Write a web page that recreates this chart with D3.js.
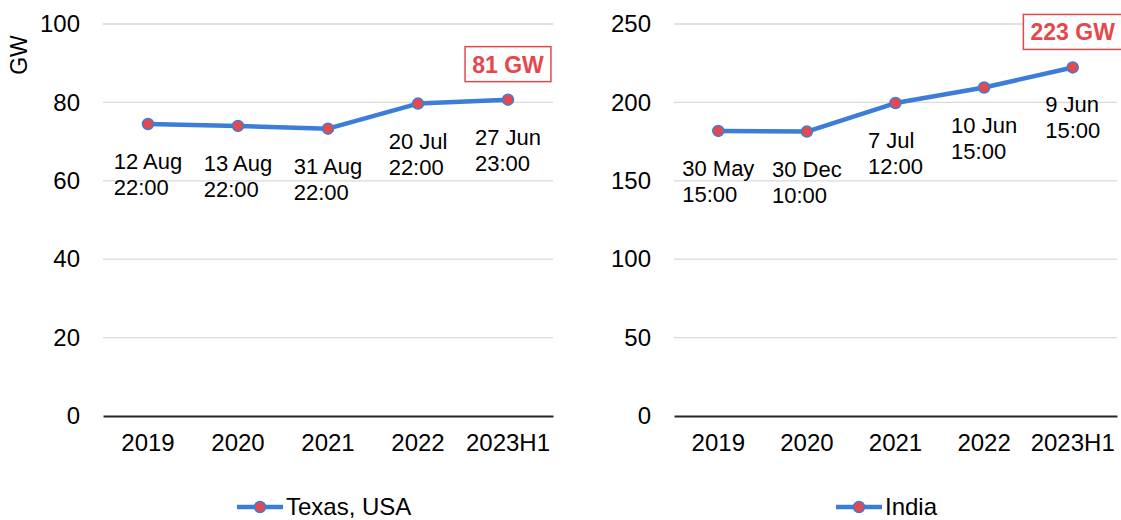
<!DOCTYPE html>
<html>
<head>
<meta charset="utf-8">
<script src="https://cdn.jsdelivr.net/npm/d3@7"></script>
<style>
  body { margin: 0; background: #fff; }
  svg { font-family: "Liberation Sans", Arial, sans-serif; display: block; }
</style>
</head>
<body>
<div class="chart"></div>
<script>
// data
var years = ["2019", "2020", "2021", "2022", "2023H1"];

var texasPeak = [74.5, 74.0, 73.3, 79.7, 80.7];
var texasTime = [["12 Aug", "22:00"], ["13 Aug", "22:00"], ["31 Aug", "22:00"], ["20 Jul", "22:00"], ["27 Jun", "23:00"]];
var texasTicks = [0, 20, 40, 60, 80, 100];

var indiaPeak = [181.8, 181.4, 199.6, 209.5, 222.3];
var indiaTime = [["30 May", "15:00"], ["30 Dec", "10:00"], ["7 Jul", "12:00"], ["10 Jun", "15:00"], ["9 Jun", "15:00"]];
var indiaTicks = [0, 50, 100, 150, 200, 250];

var svgWidth = 1121;
var svgHeight = 520;

var svg = d3.select(".chart")
  .append("svg")
  .attr("width", svgWidth)
  .attr("height", svgHeight);

var lineColor = "#3b7dd8";
var dotColor = "#e8474c";
var boxColor = "#e5474b";

function drawPanel(opt) {
  var x = d3.scaleBand()
    .domain(years)
    .range([opt.left, opt.right]);

  var y = d3.scaleLinear()
    .domain([0, d3.max(opt.ticks)])
    .range([416, 24]);

  var g = svg.append("g");

  // gridlines
  g.append("g")
    .selectAll("line")
    .data(opt.ticks.filter(d => d > 0))
    .join("line")
    .attr("x1", opt.left)
    .attr("x2", opt.right)
    .attr("y1", d => y(d))
    .attr("y2", d => y(d))
    .attr("stroke", "#d9d9d9")
    .attr("stroke-width", 1.3);

  // y axis labels
  var yAxis = d3.axisLeft(y).tickValues(opt.ticks).tickSize(0).tickPadding(23);
  g.append("g")
    .attr("transform", "translate(" + opt.left + ",0)")
    .call(yAxis)
    .call(s => s.select(".domain").remove())
    .selectAll("text")
    .style("font-size", "24px")
    .style("font-family", "Liberation Sans, Arial, sans-serif")
    .attr("fill", "#000");

  // x axis
  var xAxis = d3.axisBottom(x).tickSize(0).tickPadding(18);
  g.append("g")
    .attr("transform", "translate(0," + y(0) + ")")
    .call(xAxis)
    .call(s => s.select(".domain").attr("stroke", "#262626").attr("stroke-width", 2.2))
    .selectAll("text")
    .style("font-size", "24px")
    .style("font-family", "Liberation Sans, Arial, sans-serif")
    .attr("fill", "#000");

  var pts = years.map((d, i) => ({ year: d, v: opt.values[i], lab: opt.labels[i] }));

  var line = d3.line()
    .x(d => x(d.year) + x.bandwidth() / 2)
    .y(d => y(d.v));

  g.append("path")
    .datum(pts)
    .attr("d", line)
    .attr("fill", "none")
    .attr("stroke", lineColor)
    .attr("stroke-width", 4.5)
    .attr("stroke-linejoin", "round");

  g.selectAll("circle.pt")
    .data(pts)
    .join("circle")
    .attr("class", "pt")
    .attr("cx", d => x(d.year) + x.bandwidth() / 2)
    .attr("cy", d => y(d.v))
    .attr("r", 5.5)
    .attr("fill", dotColor)
    .attr("stroke", lineColor)
    .attr("stroke-width", 1.5);

  // date / hour labels under each point
  g.selectAll("text.lab")
    .data(pts)
    .join("text")
    .attr("class", "lab")
    .style("font-size", "22px")
    .attr("fill", "#000")
    .each(function (d) {
      var t = d3.select(this);
      var cx = x(d.year) + x.bandwidth() / 2;
      var cy = y(d.v) + 45;
      d.lab.forEach((s, k) => {
        t.append("tspan").attr("x", cx).attr("y", cy + k * 26).text(s);
      });
      var w = this.getBBox().width;
      t.selectAll("tspan").attr("x", cx - w / 2);
    });

  // peak annotation box
  var last = pts[pts.length - 1];
  var bx = x(last.year) + x.bandwidth() / 2;
  var by = y(last.v) - 18;
  var ann = g.append("g");
  var annText = ann.append("text")
    .attr("x", bx)
    .attr("y", by - 9)
    .attr("text-anchor", "middle")
    .style("font-size", "23px")
    .style("font-weight", "bold")
    .attr("fill", boxColor)
    .text(opt.peak);
  var w = annText.node().getBBox().width;
  ann.insert("rect", "text")
    .attr("x", bx - w / 2 - 7)
    .attr("y", by - 35)
    .attr("width", w + 14)
    .attr("height", 35)
    .attr("fill", "#fff")
    .attr("stroke", boxColor)
    .attr("stroke-width", 1.5);

  // legend
  var lg = g.append("g").attr("transform", "translate(" + opt.legendX + ",507)");
  lg.append("line")
    .attr("x1", 0).attr("x2", 46)
    .attr("stroke", lineColor)
    .attr("stroke-width", 4.5);
  lg.append("circle")
    .attr("cx", 23)
    .attr("r", 5.5)
    .attr("fill", dotColor)
    .attr("stroke", lineColor)
    .attr("stroke-width", 1.5);
  lg.append("text")
    .attr("x", 49)
    .attr("dy", "0.35em")
    .style("font-size", "24px")
    .attr("fill", "#000")
    .text(opt.name);
}

drawPanel({ left: 103, right: 553, ticks: texasTicks, values: texasPeak, labels: texasTime, peak: "81 GW", name: "Texas, USA", legendX: 237 });
drawPanel({ left: 674, right: 1117, ticks: indiaTicks, values: indiaPeak, labels: indiaTime, peak: "223 GW", name: "India", legendX: 836 });

svg.append("text")
  .attr("transform", "translate(27,55) rotate(-90)")
  .attr("text-anchor", "middle")
  .style("font-size", "23px")
  .attr("fill", "#000")
  .text("GW");
</script>
</body>
</html>
